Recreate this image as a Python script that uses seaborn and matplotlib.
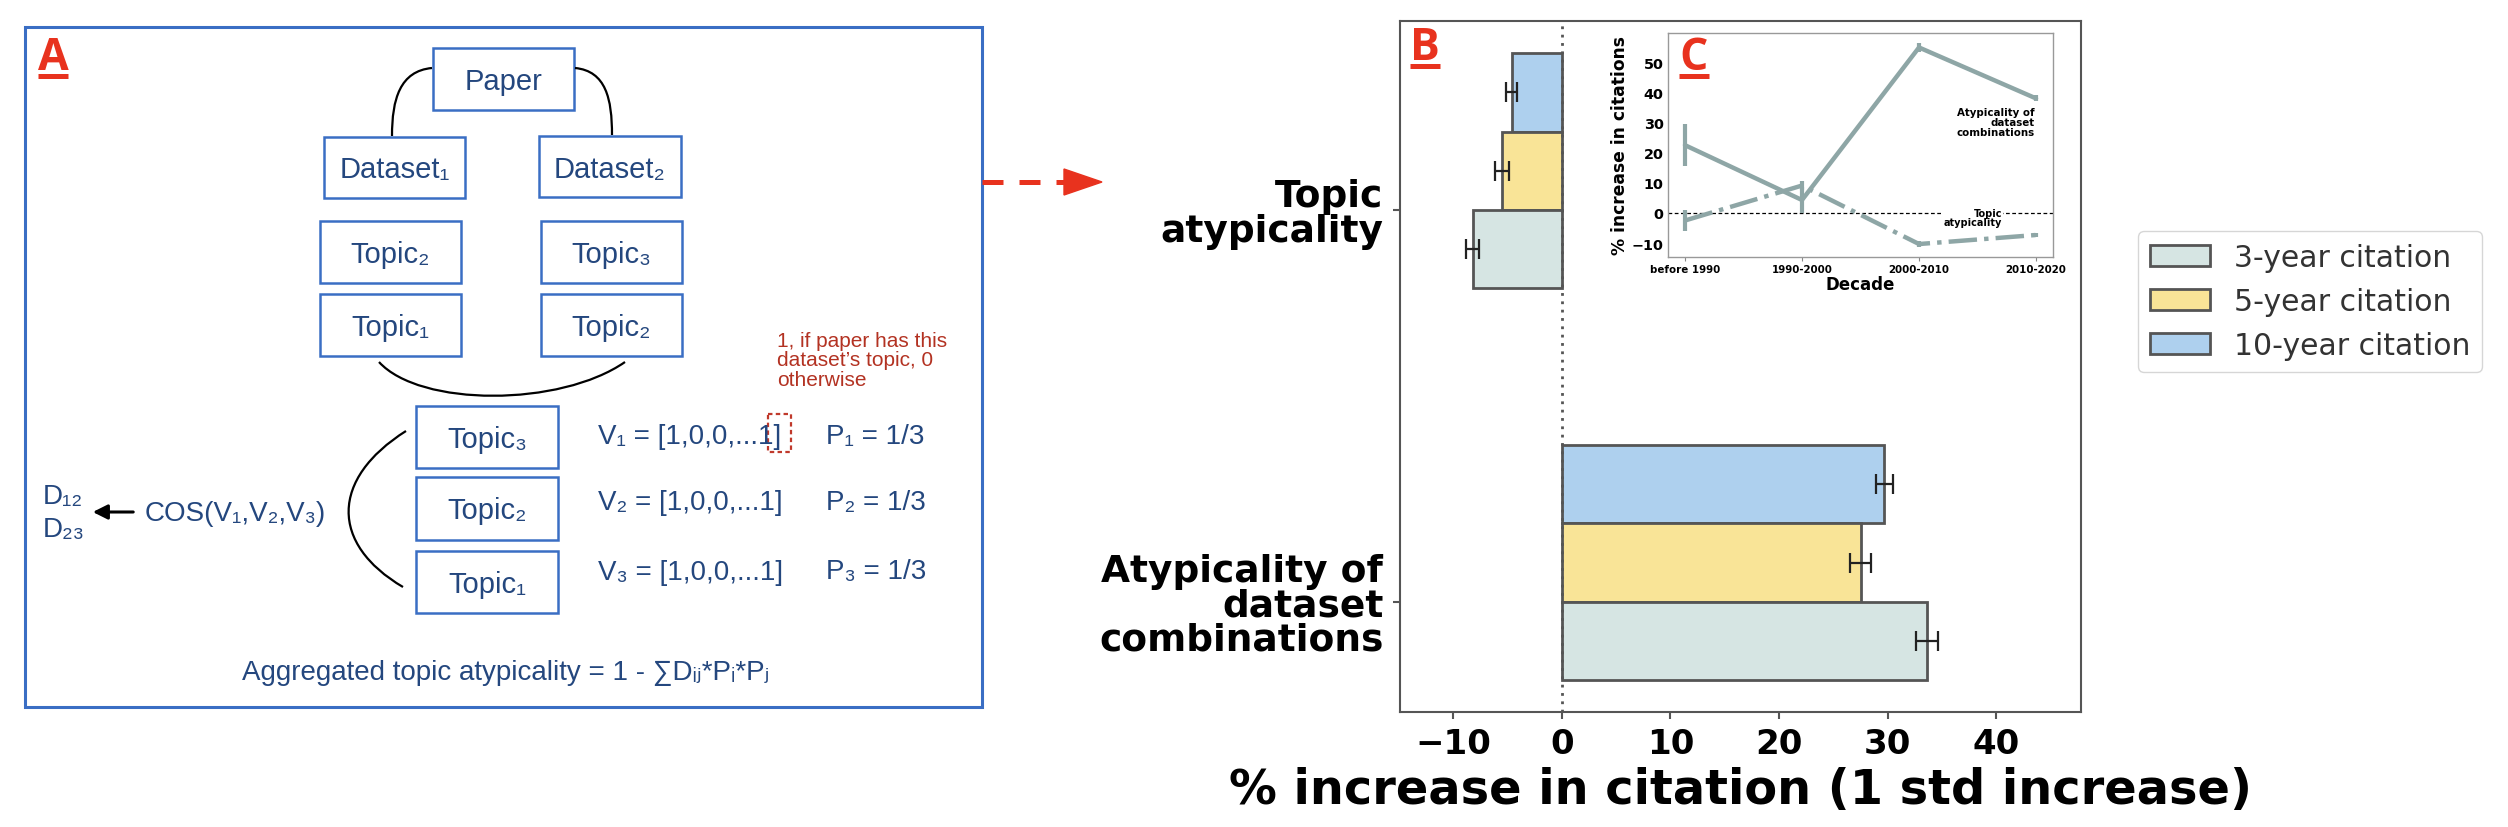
import numpy as np
import pandas as pd
import matplotlib.pyplot as plt
import seaborn as sns
from matplotlib.patches import Rectangle, PathPatch, Polygon
from matplotlib.path import Path

# panel B: effect of 1 std increase
variables = ['Topic\natypicality', 'Atypicality of\ndataset\ncombinations']
horizons = ['10-year citation', '5-year citation', '3-year citation']
topic_vals = [-4.6, -5.5, -8.2]
topic_err = [0.5, 0.65, 0.6]
dataset_vals = [29.7, 27.5, 33.6]
dataset_err = [0.8, 1.0, 1.0]
bar_colors = ['#aed0ee', '#f9e497', '#d6e5e3']

# panel C: by decade
decades = ['before 1990', '1990-2000', '2000-2010', '2010-2020']
dec_dataset = [22.5, 4.3, 54.9, 38.0]
dec_dataset_err = [7.0, 4.2, 1.5, 1.0]
dec_topic = [-2.5, 9.1, -10.3, -7.3]
dec_topic_err = [3.6, 1.5, 1.0, 0.8]

df = pd.DataFrame({
    'variable': np.repeat(variables, 3),
    'horizon': horizons * 2,
    'value': topic_vals + dataset_vals,
    'err': topic_err + dataset_err,
})

sns.set_theme(style='white')
plt.rcParams['font.family'] = ['DejaVu Sans']
plt.rcParams['font.weight'] = 'bold'
plt.rcParams['axes.labelweight'] = 'bold'
plt.rcParams['text.color'] = 'black'
plt.rcParams['axes.labelcolor'] = 'black'
plt.rcParams['xtick.labelcolor'] = 'black'
plt.rcParams['ytick.labelcolor'] = 'black'

W, H = 2508, 828
fig = plt.figure(figsize=(W / 100, H / 100), dpi=100)

# ---------------- panel A (diagram) ----------------
axa = fig.add_axes([0, 0, 1, 1], zorder=10)
axa.set_xlim(0, W)
axa.set_ylim(H, 0)
axa.axis('off')

blue_txt = '#24477e'
box_ec = '#3a6ec4'
narrow = ['Liberation Sans', 'DejaVu Sans']

axa.add_patch(Rectangle((24.5, 28), 982 - 24.5, 708 - 28, fill=False, ec=box_ec, lw=2.2))


def box(x0, y0, x1, y1, label):
    axa.add_patch(Rectangle((x0, y0), x1 - x0, y1 - y0, fill=False, ec=box_ec, lw=1.8))
    axa.text((x0 + x1) / 2, (y0 + y1) / 2 + 2, label, ha='center', va='center',
             fontsize=21, color=blue_txt, family=narrow, fontweight='normal')


box(433, 49, 574, 111, 'Paper')
box(324, 138, 465, 199, 'Dataset₁')
box(539, 137, 681, 198, 'Dataset₂')
box(320, 222, 461, 284, 'Topic₂')
box(541, 222, 682, 284, 'Topic₃')
box(320, 295, 461, 357, 'Topic₁')
box(541, 295, 682, 357, 'Topic₂')
box(416, 407, 558, 469, 'Topic₃')
box(416, 478, 558, 541, 'Topic₂')
box(416, 552, 558, 614, 'Topic₁')


def curve(pts):
    path = Path(pts, [Path.MOVETO, Path.CURVE4, Path.CURVE4, Path.CURVE4])
    axa.add_patch(PathPatch(path, fill=False, ec='black', lw=1.6))


curve([(432, 69), (400, 72), (392, 100), (392, 137)])
curve([(575, 69), (606, 72), (612, 100), (612, 136)])
curve([(379, 363), (420, 408), (560, 408), (625, 363)])
curve([(406, 432), (330, 480), (330, 545), (403, 588)])

ftxt = dict(fontsize=20, color=blue_txt, family=narrow, fontweight='normal', va='center')
axa.text(43, 497, 'D₁₂', ha='left', **ftxt)
axa.text(43, 530, 'D₂₃', ha='left', **ftxt)
axa.annotate('', xy=(90, 513), xytext=(136, 513),
             arrowprops=dict(arrowstyle='-|>', color='black', lw=2.2, mutation_scale=22))
axa.text(145, 514, 'COS(V₁,V₂,V₃)', ha='left', **ftxt)
axa.text(598, 437, 'V₁ = [1,0,0,...1]', ha='left', **ftxt)
axa.text(598, 503, 'V₂ = [1,0,0,...1]', ha='left', **ftxt)
axa.text(598, 573, 'V₃ = [1,0,0,...1]', ha='left', **ftxt)
axa.text(826, 437, 'P₁ = 1/3', ha='left', **ftxt)
axa.text(826, 503, 'P₂ = 1/3', ha='left', **ftxt)
axa.text(826, 572, 'P₃ = 1/3', ha='left', **ftxt)
axa.add_patch(Rectangle((768, 415), 23, 38, fill=False, ec='#c0392b', lw=1.6, ls=(0, (2, 1.5))))
axa.text(242, 673, 'Aggregated topic atypicality = 1 - ∑Dᵢⱼ*Pᵢ*Pⱼ', ha='left', **ftxt)
axa.text(777, 361, '1, if paper has this\ndataset’s topic, 0\notherwise', ha='left', va='center',
         fontsize=15, color='#b33222', family=narrow, fontweight='normal', linespacing=1.05)

# red dashed arrow A -> B
red = '#e8321e'
axa.plot([982, 1068], [183, 183], color=red, lw=3.6, dashes=(4.2, 3.2), solid_capstyle='butt')
axa.add_patch(Polygon([(1064, 170), (1064, 196), (1102, 183)], closed=True, color=red))

# panel letters
for lx, ly, lt in [(38, 70, 'A'), (1410, 60, 'B'), (1679, 70, 'C')]:
    axa.text(lx, ly, lt, ha='left', va='baseline', fontsize=32, color=red,
             family=['Open Sans', 'DejaVu Sans'], fontweight='bold')
    axa.plot([lx, lx + 30], [ly + 7, ly + 7], color=red, lw=3.6, solid_capstyle='butt')

# ---------------- panel B (bars) ----------------
ax = fig.add_axes([1400 / W, 1 - 713 / H, 681 / W, 691 / H])
sns.barplot(data=df, y='variable', x='value', hue='horizon', hue_order=horizons,
            order=variables, palette=bar_colors, width=0.6, saturation=1,
            edgecolor='#555555', linewidth=2, errorbar=None, orient='h', ax=ax)
handles, labels = ax.get_legend_handles_labels()
ax.get_legend().remove()

for p in ax.patches:
    if p.get_height() == 0:
        continue
    w = p.get_width()
    yc = p.get_y() + p.get_height() / 2
    i = int(np.argmin(np.abs(df['value'].values - w)))
    ax.errorbar(w, yc, xerr=df['err'].values[i], fmt='none', ecolor='#222222',
                elinewidth=1.6, capsize=7, capthick=1.6, zorder=4)

ax.axvline(0, color='#555555', ls=(0, (1, 2)), lw=2, zorder=3)
ax.set_yticks([0.1, 1.1], variables)
ax.set_ylim(1.381, -0.382)
ax.set_xlim(-14.9, 47.8)
ax.set_xticks([-10, 0, 10, 20, 30, 40])
ax.set_ylabel('')
ax.set_xlabel('% increase in citation (1 std increase)', fontsize=34.5, fontweight='bold',
              labelpad=4, color='black')
ax.tick_params(axis='x', labelsize=24.5, length=5, width=1.5, color='#555555', pad=6, bottom=True)
ax.tick_params(axis='y', labelsize=27, length=5, width=1.5, color='#555555', pad=7, left=True)
for lbl in ax.get_yticklabels():
    lbl.set_linespacing(0.95)
    lbl.set_fontweight('bold')
    lbl.set_color('black')
for lbl in ax.get_xticklabels():
    lbl.set_fontweight('bold')
    lbl.set_color('black')
for s in ax.spines.values():
    s.set_color('#555555')
    s.set_linewidth(1.5)

# legend, 3/5/10 order
order = [2, 1, 0]
leg = fig.legend([handles[k] for k in order], [labels[k] for k in order],
                 loc='upper left', bbox_to_anchor=(2138 / W, 1 - 232 / H), borderaxespad=0,
                 prop={'size': 21.5, 'weight': 'normal'}, frameon=True)
leg.get_frame().set_edgecolor('#cccccc')
for t in leg.get_texts():
    t.set_color('#333333')

# ---------------- panel C (inset) ----------------
lc = '#8ea6a6'
axc = fig.add_axes([1668 / W, 1 - 258 / H, 385 / W, 224 / H], zorder=5)
axc.axhline(0, color='black', ls=(0, (3, 2)), lw=0.9, zorder=1)
sns.lineplot(x=decades, y=dec_dataset, ax=axc, color=lc, lw=3.2, sort=False, zorder=3)
sns.lineplot(x=decades, y=dec_topic, ax=axc, color=lc, lw=3.2, sort=False, linestyle='-.', zorder=3)
axc.errorbar(decades, dec_dataset, yerr=dec_dataset_err, fmt='none', ecolor=lc, elinewidth=3, zorder=3)
axc.errorbar(decades, dec_topic, yerr=dec_topic_err, fmt='none', ecolor=lc, elinewidth=3, zorder=3)
axc.text(2.71, -1.5, 'Topic\natypicality', ha='right', va='center', multialignment='right',
         fontsize=7, fontweight='bold', linespacing=0.95,
         bbox=dict(fc='white', ec='none', pad=0.5), zorder=2)
axc.text(2.99, 30.2, 'Atypicality of\ndataset\ncombinations', ha='right', va='center',
         multialignment='right', fontsize=7.4, fontweight='bold', linespacing=0.95)
axc.set_xlim(-0.145, 3.145)
axc.set_ylim(-14.6, 59.7)
axc.set_yticks([-10, 0, 10, 20, 30, 40, 50])
axc.set_ylabel('% increase in citations', fontsize=12.3, fontweight='bold', labelpad=2, color='black')
axc.set_xlabel('Decade', fontsize=12, fontweight='bold', labelpad=1, color='black')
axc.tick_params(axis='y', labelsize=10.4, length=0, pad=3)
axc.tick_params(axis='x', labelsize=7.4, length=3, width=0.8, color='#888888', pad=2, bottom=True)
for lbl in axc.get_xticklabels() + axc.get_yticklabels():
    lbl.set_fontweight('bold')
    lbl.set_color('black')
for s in axc.spines.values():
    s.set_color('#999999')
    s.set_linewidth(1)

fig.savefig('out.png', dpi=100)
